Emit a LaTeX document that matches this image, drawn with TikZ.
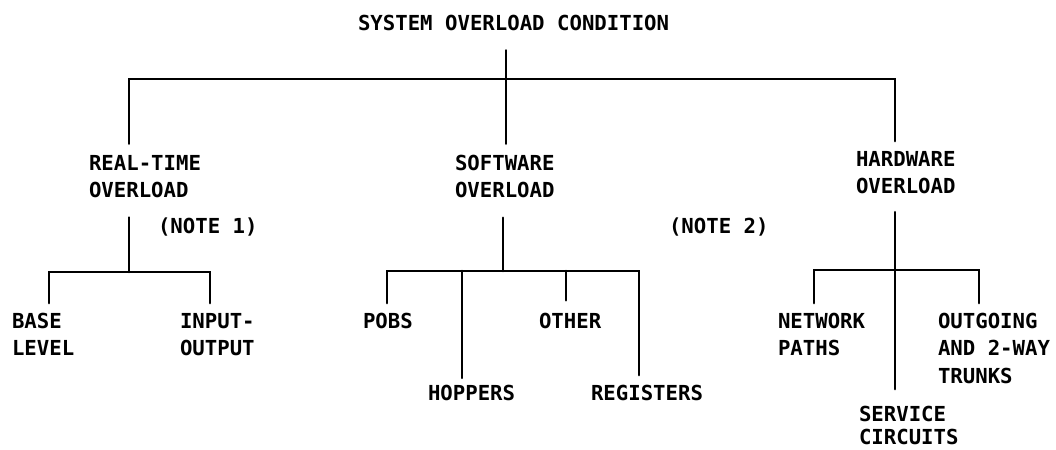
\documentclass[tikz,border=0pt]{standalone}
\usepackage{fontspec}
\setmonofont{DejaVu Sans Mono}
\usepackage{tikz}
\usetikzlibrary{positioning}
\tikzset{
	lbl/.style ={anchor=north west, align=left, inner sep=0pt, outer sep=0pt},
	tree/.style={line width=1.8pt, line cap=round, line join=miter},
}

\begin{document}
\begin{tikzpicture}[x=0.025cm, y=-0.025cm, font=\ttfamily\bfseries\fontsize{14.7}{19.5}\selectfont]
	\useasboundingbox (0,0) rectangle (1056,449);
	% labels
	\node[lbl] (sys)  at (358,15)  {SYSTEM OVERLOAD CONDITION};
	\node[lbl] (rt)   at (89,155)  {REAL-TIME\\OVERLOAD};
	\node[lbl] (sw)   at (455,155) {SOFTWARE\\OVERLOAD};
	\node[lbl] (hw)   at (856,151) {HARDWARE\\OVERLOAD};
	\node[lbl] (n1)   at (158,218) {(NOTE 1)};
	\node[lbl] (n2)   at (669,218) {(NOTE 2)};
	\node[lbl] (base) at (12,313)  {BASE\\LEVEL};
	\node[lbl] (io)   at (180,313) {INPUT-\\OUTPUT};
	\node[lbl] (pobs) at (363,313) {POBS};
	\node[lbl] (hop)  at (428,385) {HOPPERS};
	\node[lbl] (oth)  at (539,313) {OTHER};
	\node[lbl] (reg)  at (591,385) {REGISTERS};
	\node[lbl] (net)  at (778,313) {NETWORK\\PATHS};
	\node[lbl] (out)  at (938,313) {OUTGOING\\AND 2-WAY\\TRUNKS};
	\node[lbl] (svc)  at (859,406) {SERVICE\\[-3pt]CIRCUITS};
	% junctions
	\coordinate (top) at (506,79);
	\coordinate (rtj) at (129,272);
	\coordinate (swj) at (503,271);
	\coordinate (hwj) at (895,270);
	% top level
	\draw[tree, shorten <=14pt, shorten >=8pt] (sys.south -| top) -- (sw.north -| top);
	\draw[tree, shorten <=8pt, shorten >=7pt] (rt.north -| rtj) |- (top) -| (hw.north -| hwj);
	% real-time branch
	\draw[tree, shorten <=14pt] (rt.south -| rtj) -- (rtj);
	\draw[tree, shorten <=7pt, shorten >=7pt] (base.north -| 49,0) |- (rtj) -| (io.north -| 210,0);
	% software branch
	\draw[tree, shorten <=14pt] (sw.south -| swj) -- (swj);
	\draw[tree, shorten <=7pt, shorten >=7pt] (pobs.north -| 387,0) |- (swj) -| (reg.north -| 639,0);
	\draw[tree, shorten >=5pt] (swj -| 462,0) -- (hop.north -| 462,0);
	\draw[tree, shorten >=9pt] (swj -| 566,0) -- (oth.north -| 566,0);
	% hardware branch
	\draw[tree, shorten <=13pt, shorten >=12pt] (hw.south -| hwj) -- (svc.north -| hwj);
	\draw[tree, shorten <=7pt, shorten >=7pt] (net.north -| 814,0) |- (hwj) -| (out.north -| 979,0);
\end{tikzpicture}
\end{document}
